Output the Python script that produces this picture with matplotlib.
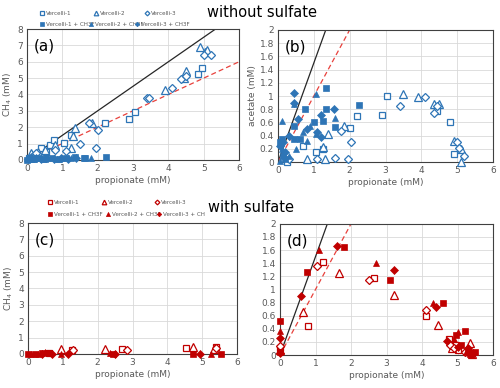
import matplotlib
matplotlib.use("Agg")
import numpy as np
import matplotlib.pyplot as plt

blue = "#2e75b6"
red = "#c00000"

# ---- without sulfate, CH4 (a) ----
a_v1_x = [0.05, 0.2, 0.4, 0.55, 0.65, 0.75, 1.05, 1.25, 2.2, 2.9, 3.05, 4.85, 4.95]
a_v1_y = [0.1, 0.3, 0.7, 0.5, 0.9, 1.2, 1.05, 1.5, 2.25, 2.5, 2.9, 5.25, 5.6]
a_v2_x = [0.1, 0.3, 0.5, 0.8, 1.25, 1.3, 1.35, 1.85, 3.9, 4.45, 4.5, 4.9, 5.05, 5.1]
a_v2_y = [0.45, 0.5, 0.6, 0.9, 0.75, 1.45, 1.95, 2.25, 4.3, 5.0, 5.45, 6.9, 6.6, 6.7]
a_v3_x = [0.25, 0.8, 1.1, 1.5, 1.75, 1.95, 2.0, 3.4, 3.45, 4.1, 4.35, 4.5, 5.0, 5.2]
a_v3_y = [0.4, 0.6, 0.55, 0.95, 2.25, 0.75, 1.85, 3.8, 3.8, 4.4, 4.95, 5.15, 6.4, 6.4]
a_f1_x = [0.0, 0.1, 0.2, 0.3, 0.5, 0.7, 0.9, 1.1, 1.35, 1.6, 1.65, 2.25]
a_f1_y = [0.0, 0.05, 0.05, 0.1, 0.05, 0.1, 0.05, 0.1, 0.15, 0.1, 0.1, 0.15]
a_f2_x = [0.0, 0.05, 0.15, 0.3, 0.45, 0.6, 0.85, 1.0, 1.25, 1.8]
a_f2_y = [0.1, 0.2, 0.05, 0.1, 0.05, 0.1, 0.05, 0.1, 0.1, 0.1]
a_f3_x = [0.02, 0.1, 0.25, 0.4, 0.55, 0.75, 0.95, 1.15, 1.4]
a_f3_y = [0.05, 0.15, 0.1, 0.05, 0.1, 0.05, 0.1, 0.05, 0.1]

# ---- without sulfate, acetate (b) ----
b_v1_x = [0.25, 0.7, 1.05, 1.25, 2.0, 2.2, 2.9, 3.05, 4.45, 4.8, 4.9]
b_v1_y = [0.0, 0.25, 0.15, 0.2, 0.52, 0.7, 0.72, 1.0, 0.78, 0.6, 0.12]
b_v2_x = [0.8, 1.25, 1.3, 1.4, 1.85, 3.5, 3.9, 4.35, 4.5, 4.9, 5.1, 5.1]
b_v2_y = [0.05, 0.23, 0.05, 0.43, 0.55, 1.03, 0.98, 0.88, 0.88, 0.32, 0.2, 0.0]
b_v3_x = [0.3, 1.1, 1.6, 1.75, 1.95, 2.05, 3.4, 4.1, 4.35, 4.45, 5.0, 5.05, 5.2]
b_v3_y = [0.05, 0.05, 0.07, 0.47, 0.05, 0.3, 0.85, 0.98, 0.75, 0.85, 0.3, 0.22, 0.1]
b_f1_x = [0.05, 0.1, 0.15, 0.45, 0.45, 0.6, 0.75, 1.0, 1.25, 1.35, 1.35, 1.6, 2.25, 0.2]
b_f1_y = [0.3, 0.35, 0.1, 0.55, 0.35, 0.35, 0.8, 0.6, 0.62, 0.8, 1.12, 0.53, 0.86, 0.05]
b_f2_x = [0.1, 0.1, 0.45, 0.5, 0.7, 0.8, 0.9, 1.05, 1.05, 1.6, 0.3, 0.05]
b_f2_y = [0.63, 0.2, 0.88, 0.2, 0.45, 0.32, 0.55, 0.42, 1.03, 0.67, 0.1, 0.02]
b_f3_x = [0.05, 0.2, 0.3, 0.45, 0.45, 0.55, 0.8, 1.1, 1.2, 1.2, 1.55, 0.15]
b_f3_y = [0.25, 0.15, 0.4, 1.04, 0.9, 0.65, 0.5, 0.45, 0.38, 0.72, 0.81, 0.3]

# ---- with sulfate, CH4 (c) ----
c_v1_x = [0.6, 1.25, 2.7, 4.55, 5.4]
c_v1_y = [0.05, 0.25, 0.3, 0.35, 0.4]
c_v2_x = [0.95, 2.2, 4.75, 5.35]
c_v2_y = [0.3, 0.3, 0.4, 0.3]
c_v3_x = [1.3, 2.85, 5.4]
c_v3_y = [0.25, 0.25, 0.35]
c_f1_x = [0.0, 0.2, 0.4, 0.6, 2.45, 4.75, 5.55]
c_f1_y = [0.0, 0.0, 0.05, 0.05, 0.0, 0.0, 0.0]
c_f2_x = [0.1, 0.3, 0.5, 0.95, 2.35, 5.25]
c_f2_y = [0.0, 0.0, 0.1, 0.0, 0.05, 0.0]
c_f3_x = [0.4, 0.7, 1.15, 2.5, 4.95]
c_f3_y = [0.0, 0.0, 0.0, 0.0, 0.0]

# ---- with sulfate, acetate (d) ----
d_v1_x = [0.0, 0.8, 1.2, 2.65, 4.1, 4.75, 4.95, 5.0, 5.3]
d_v1_y = [0.1, 0.45, 1.42, 1.18, 0.6, 0.25, 0.15, 0.08, 0.05]
d_v2_x = [0.0, 0.65, 1.65, 3.2, 4.45, 4.85, 5.35, 5.4]
d_v2_y = [0.08, 0.65, 1.25, 0.92, 0.46, 0.1, 0.19, 0.02]
d_v3_x = [0.0, 1.05, 2.5, 4.1, 4.8, 4.9, 5.2]
d_v3_y = [0.13, 1.35, 1.15, 0.68, 0.15, 0.1, 0.05]
d_f1_x = [0.0, 0.0, 0.75, 1.8, 3.1, 4.6, 4.95, 5.1, 5.2, 5.3, 5.35, 5.5]
d_f1_y = [0.52, 0.05, 1.27, 1.65, 1.15, 0.79, 0.3, 0.15, 0.37, 0.08, 0.02, 0.05]
d_f2_x = [0.0, 1.1, 2.7, 4.3, 4.9, 5.0, 5.25, 5.4]
d_f2_y = [0.37, 1.6, 1.41, 0.8, 0.25, 0.35, 0.05, 0.0]
d_f3_x = [0.0, 0.0, 0.6, 1.6, 3.2, 4.4, 4.7, 5.0, 5.3, 5.45]
d_f3_y = [0.26, 0.03, 0.9, 1.66, 1.3, 0.73, 0.21, 0.12, 0.1, 0.03]

labels = ["Vercelli-1", "Vercelli-2", "Vercelli-3",
          "Vercelli-1 + CH3F", "Vercelli-2 + CH3F", "Vercelli-3 + CH3F"]
labels_c = labels[:5] + ["Vercelli-3 + CH"]

fig = plt.figure(figsize=(5, 3.88), dpi=100)
axa = fig.add_axes([0.054, 0.588, 0.424, 0.337])
axb = fig.add_axes([0.556, 0.582, 0.430, 0.341])
axc = fig.add_axes([0.056, 0.088, 0.418, 0.337])
axd = fig.add_axes([0.560, 0.085, 0.426, 0.338])


def draw(ax, data, color, ymax, ystep, yfmt, ylabel, tag, lines):
    mk = ["s", "^", "D", "s", "^", "D"]
    ms = [5, 5.5, 4, 4.5, 5, 3.8]
    handles = []
    for i, (xs, ys) in enumerate(data):
        if i < 3:
            h, = ax.plot(xs, ys, ls="none", marker=mk[i], ms=ms[i], mfc="white",
                         mec=color, mew=0.9, clip_on=False, zorder=3)
        else:
            h, = ax.plot(xs, ys, ls="none", marker=mk[i], ms=ms[i], mfc=color,
                         mec=color, mew=0.5, clip_on=False, zorder=4)
        handles.append(h)
    if lines:
        xx = np.array([0, 6])
        ax.plot(xx, 1.5 * xx, color="#262626", lw=0.9, zorder=2)
        ax.plot(xx, 1.0 * xx, color="#e8413c", lw=0.9, ls=(0, (4, 2.5)), zorder=2)
    ax.set_xlim(0, 6)
    ax.set_ylim(0, ymax)
    ax.set_xticks(range(0, 7))
    yt = np.arange(0, ymax + ystep / 2, ystep)
    ax.set_yticks(yt)
    ax.set_yticklabels([yfmt(v) for v in yt])
    ax.grid(True, color="#d9d9d9", lw=0.6)
    ax.set_axisbelow(True)
    for s in ax.spines.values():
        s.set_color("#404040")
        s.set_linewidth(0.8)
    ax.tick_params(length=0, labelsize=6.5, labelcolor="#595959", pad=3)
    ax.set_xlabel("propionate (mM)", fontsize=6.5, color="#595959", labelpad=2)
    if ylabel:
        ax.set_ylabel(ylabel, fontsize=6.5, color="#595959", labelpad=2)
    ax.text(0.03, 0.87, tag, transform=ax.transAxes, fontsize=11, va="center")
    return handles


def fmt_int(v):
    return "%d" % v


def fmt_dec(v):
    return "0" if v == 0 else ("%g" % round(v, 1))


ha = draw(axa, [(a_v1_x, a_v1_y), (a_v2_x, a_v2_y), (a_v3_x, a_v3_y),
                (a_f1_x, a_f1_y), (a_f2_x, a_f2_y), (a_f3_x, a_f3_y)],
          blue, 8, 1, fmt_int, "CH$_4$ (mM)", "(a)", True)
draw(axb, [(b_v1_x, b_v1_y), (b_v2_x, b_v2_y), (b_v3_x, b_v3_y),
           (b_f1_x, b_f1_y), (b_f2_x, b_f2_y), (b_f3_x, b_f3_y)],
     blue, 2, 0.2, fmt_dec, "acetate (mM)", "(b)", True)
hc = draw(axc, [(c_v1_x, c_v1_y), (c_v2_x, c_v2_y), (c_v3_x, c_v3_y),
                (c_f1_x, c_f1_y), (c_f2_x, c_f2_y), (c_f3_x, c_f3_y)],
          red, 8, 1, fmt_int, "CH$_4$ (mM)", "(c)", False)
draw(axd, [(d_v1_x, d_v1_y), (d_v2_x, d_v2_y), (d_v3_x, d_v3_y),
           (d_f1_x, d_f1_y), (d_f2_x, d_f2_y), (d_f3_x, d_f3_y)],
     red, 2, 0.2, fmt_dec, None, "(d)", True)

# Excel-like legends: each entry placed on its own (rows are not aligned)
leg_a_x = [0.082, 0.190, 0.292, 0.082, 0.180, 0.272]
leg_a_y = [0.964, 0.964, 0.964, 0.936, 0.936, 0.936]
leg_c_x = [0.098, 0.206, 0.312, 0.098, 0.214, 0.316]
leg_c_y = [0.479, 0.479, 0.479, 0.446, 0.446, 0.446]

for hs, labs, lx, ly in [(ha, labels, leg_a_x, leg_a_y), (hc, labels_c, leg_c_x, leg_c_y)]:
    for h, lab, x, y in zip(hs, labs, lx, ly):
        fig.legend([h], [lab], loc="center left", bbox_to_anchor=(x, y),
                   frameon=False, markerscale=0.6, handlelength=0.5,
                   handletextpad=0.3, borderpad=0, borderaxespad=0,
                   prop={"family": ["Liberation Sans Narrow", "DejaVu Sans"], "size": 4.1},
                   labelcolor="#595959")

fig.text(0.524, 0.969, "without sulfate", fontsize=10.5, ha="center", va="center")
fig.text(0.503, 0.466, "with sulfate", fontsize=10.5, ha="center", va="center")

fig.savefig("out.png", dpi=100)
